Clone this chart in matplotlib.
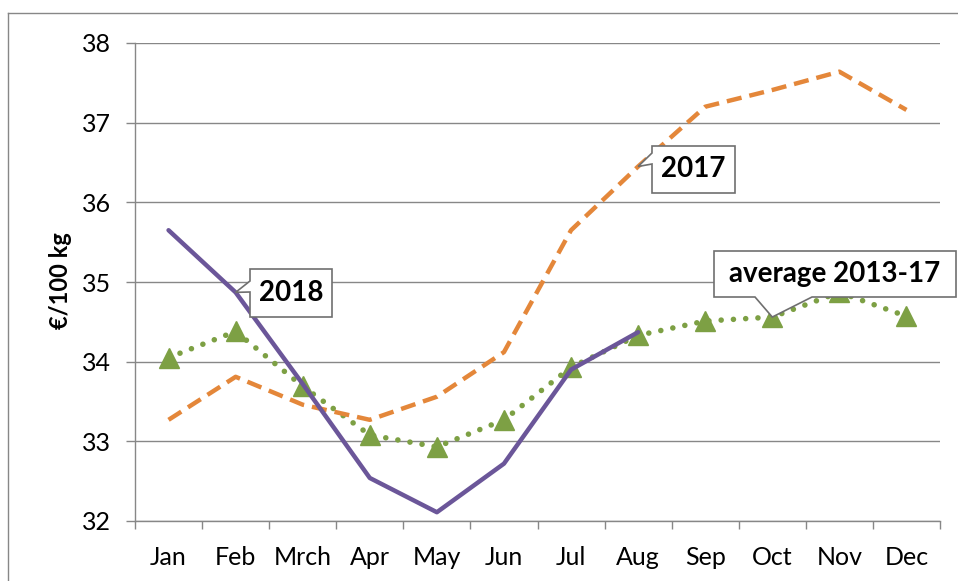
import matplotlib
matplotlib.use('Agg')
import matplotlib.pyplot as plt
from matplotlib.patches import Polygon
from matplotlib.transforms import IdentityTransform
import numpy as np

months = ['Jan', 'Feb', 'Mrch', 'Apr', 'May', 'Jun', 'Jul', 'Aug', 'Sep', 'Oct', 'Nov', 'Dec']
y2018 = [35.65, 34.87, 33.72, 32.54, 32.11, 32.72, 33.90, 34.37]
y2017 = [33.27, 33.81, 33.46, 33.27, 33.56, 34.12, 35.65, 36.45, 37.20, 37.41, 37.64, 37.16]
yavg = [34.05, 34.38, 33.69, 33.08, 32.93, 33.27, 33.93, 34.33, 34.51, 34.56, 34.87, 34.57]
yticks = [32, 33, 34, 35, 36, 37, 38]

PURPLE = '#6B5699'
ORANGE = '#E4873A'
GREEN = '#7DA044'
GREY = '#878787'

plt.rcParams['font.family'] = ['Lato', 'DejaVu Sans']

W, H = 958, 581
fig = plt.figure(figsize=(W / 100, H / 100), dpi=100)
ax = fig.add_axes([135 / W, (H - 521) / H, 805 / W, 478 / H])

x_all = np.arange(len(months))

# average 2013-17
ax.plot(x_all, yavg, color=GREEN, lw=4.0, linestyle=(0, (0.01, 2.2)),
        dash_capstyle='round', dash_joinstyle='round', zorder=3)
ax.plot(x_all, yavg, linestyle='none', marker='^', ms=14, color=GREEN, zorder=4)

# 2017
ax.plot(x_all, y2017, color=ORANGE, lw=3.2, linestyle=(0, (3.4, 1.8)),
        dash_capstyle='butt', dash_joinstyle='round', zorder=5)

# 2018
ax.plot(np.arange(len(y2018)), y2018, color=PURPLE, lw=3.2, solid_joinstyle='round',
        solid_capstyle='round', zorder=6)

ax.set_xlim(-0.5, 11.5)
ax.set_ylim(32, 38)
ax.set_yticks(yticks)
ax.set_yticklabels([str(v) for v in yticks], fontsize=18)
ax.set_xticks(x_all)
ax.set_xticklabels(months, fontsize=18)
ax.set_xticks(np.arange(-0.5, 12, 1), minor=True)
ax.tick_params(axis='x', which='major', length=0, pad=18)
ax.tick_params(axis='x', which='minor', length=6, width=1.0, color=GREY)
ax.tick_params(axis='y', length=6.5, width=1.0, color=GREY, pad=11)

ax.grid(axis='y', color=GREY, lw=1.0)
ax.set_axisbelow(True)
for s in ['top', 'right']:
    ax.spines[s].set_visible(False)
for s in ['left', 'bottom']:
    ax.spines[s].set_color(GREY)
    ax.spines[s].set_linewidth(1.0)

fig.text(61 / W, 1 - 281 / H, '€/100 kg', rotation=90, fontsize=17, fontweight='bold',
         ha='center', va='center')

# outer chart border
fig.add_artist(plt.Line2D([8 / W, 8 / W], [0, 1 - 13 / H], color=GREY, lw=1.0,
                          transform=fig.transFigure))
fig.add_artist(plt.Line2D([8 / W, 1], [1 - 13 / H, 1 - 13 / H], color=GREY, lw=1.0,
                          transform=fig.transFigure))


def callout(text, box, tail, tip_data, side):
    x0, y0, x1, y1 = box
    tx, ty = ax.transData.transform(tip_data)
    d = lambda px, py: (px, H - py)
    a, b = tail
    if side == 'left':
        pts = [d(x0, y0), d(x1, y0), d(x1, y1), d(x0, y1), d(x0, b), (tx, ty), d(x0, a)]
    else:
        pts = [d(x0, y0), d(x1, y0), d(x1, y1), d(b, y1), (tx, ty), d(a, y1), d(x0, y1)]
    poly = Polygon(pts, closed=True, facecolor='white', edgecolor='#6f6f6f', lw=1.2,
                   transform=IdentityTransform(), clip_on=False, zorder=10)
    fig.add_artist(poly)
    fig.text((x0 + x1) / 2 / W, 1 - (y0 + y1) / 2 / H, text, fontsize=20, fontweight='bold',
             ha='center', va='center', zorder=11)


callout('2018', (250, 269, 332, 317), (281, 292), (1, y2018[1]), 'left')
callout('2017', (652, 146, 735, 193), (153, 164), (7, y2017[7]), 'left')
callout('average 2013-17', (714, 251, 956, 297), (755, 812), (9, yavg[9]), 'bottom')

fig.savefig('out.png', dpi=100)
